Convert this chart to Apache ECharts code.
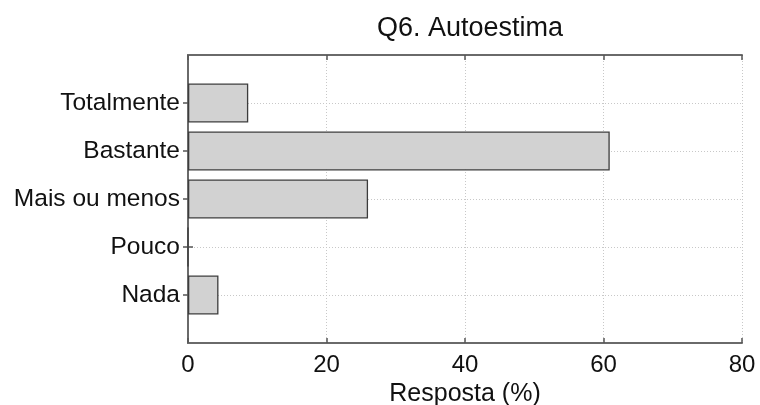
<!DOCTYPE html>
<html>
<head>
<meta charset="utf-8">
<script src="https://cdn.jsdelivr.net/npm/echarts@6/dist/echarts.min.js"></script>
<style>
  html, body { margin: 0; padding: 0; background: #ffffff; }
  #chart { width: 760px; height: 405px; }
</style>
</head>
<body>
<div id="chart"></div>
<script>
// Answer categories, bottom to top
const categories = ['Nada', 'Pouco', 'Mais ou menos', 'Bastante', 'Totalmente'];
// Share of responses (%)
const values = [4.4, 0, 26.0, 60.9, 8.7];
// x-axis ticks
const xTicks = [0, 20, 40, 60, 80];

// Pad the category axis with an empty slot at each end so the
// categories sit at integer steps inside the frame.
const yCats = [''].concat(categories, ['']);
const yVals = [null].concat(values, [null]);
const isReal = (i) => i > 0 && i < yCats.length - 1;

const FONT = '"Liberation Sans", Arial, Helvetica, sans-serif';
const FRAME = '#6a6a6a';
const TICK = '#555555';
const GRID = '#c8c8c8';

const chart = echarts.init(document.getElementById('chart'), null, { renderer: 'canvas' });

const xMin = xTicks[0], xMax = xTicks[xTicks.length - 1], xStep = xTicks[1] - xTicks[0];

const frameLine = { show: true, lineStyle: { color: FRAME, width: 2 } };
const innerTick = { show: true, inside: true, length: 5, lineStyle: { color: TICK, width: 1.5 } };

chart.setOption({
  animation: false,
  backgroundColor: '#ffffff',
  title: {
    text: 'Q6. Autoestima',
    left: 465,
    top: 10,
    textAlign: 'center',
    textStyle: { fontFamily: FONT, fontSize: 27, fontWeight: 'normal', color: '#111' }
  },
  grid: { left: 188, right: 18, top: 55, bottom: 62, containLabel: false, outerBoundsMode: 'none' },
  xAxis: [
    {
      type: 'value', position: 'bottom',
      min: xMin, max: xMax, interval: xStep,
      name: 'Resposta (%)', nameLocation: 'middle', nameGap: 34,
      nameTextStyle: { fontFamily: FONT, fontSize: 25, color: '#111' },
      axisLine: frameLine,
      axisTick: innerTick,
      axisLabel: { margin: 10, fontFamily: FONT, fontSize: 24, color: '#111' },
      splitLine: { show: true, lineStyle: { color: GRID, type: [1, 2], width: 1 } }
    },
    {
      type: 'value', position: 'top',
      min: xMin, max: xMax, interval: xStep,
      axisLine: frameLine,
      axisTick: innerTick,
      axisLabel: { show: false },
      splitLine: { show: false }
    }
  ],
  yAxis: [
    {
      type: 'category', position: 'left', data: yCats, boundaryGap: false,
      axisLine: frameLine,
      axisTick: Object.assign({}, innerTick, { interval: (i) => isReal(i) }),
      axisLabel: { margin: 8, interval: 0, fontFamily: FONT, fontSize: 24.5, color: '#111' },
      splitLine: { show: true, interval: (i) => isReal(i), lineStyle: { color: GRID, type: [1, 2], width: 1 } }
    },
    {
      type: 'category', position: 'right', data: yCats, boundaryGap: false,
      axisLine: frameLine,
      axisTick: Object.assign({}, innerTick, { interval: (i) => isReal(i) }),
      axisLabel: { show: false },
      splitLine: { show: false }
    }
  ],
  series: [
    {
      type: 'bar',
      xAxisIndex: 0, yAxisIndex: 0,
      data: yVals,
      barWidth: 39,
      itemStyle: { color: '#d2d2d2', borderColor: '#3c3c3c', borderWidth: 1.3 },
      z: 3
    }
  ]
});
</script>
</body>
</html>
